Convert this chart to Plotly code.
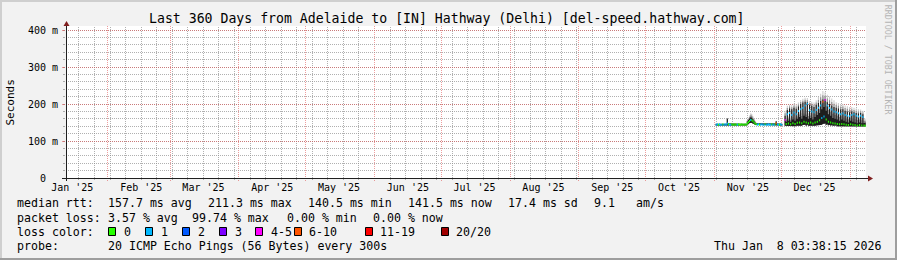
import plotly.graph_objects as go
import pandas as pd

# ---------------- data (median RTT in ms, smoke bounds in ms, loss class) ----------------
# samples every 12h starting 2025-11-01 12:00 ; None = no data
med = [
    144, 145, 144, 145, 144, 144, 145, 144, 145, 144,
    147, 145, 144, 144, 145, 144, 144, 145, 144, 144,
    145, 144, 144, 145, 144, 144, 145, 144,
    148, 151, 154, 157, 156, 154, 150, 147, 145,
    144, 145, 144, 144, 145, 144, 144, 145, 144, 144,
    145, 144, 144, 145, 144, 144, 145,
    148,
    145, 144, 144, 145, 144,
    None, None,
    157,
    146, 172, 147, 176, 145, 170, 148, 177, 146, 172, 149, 181, 150, 186, 148, 189,
    152, 196, 150, 201, 148, 183, 150, 180, 147, 178, 150, 184, 152, 190, 156, 196,
    162, 206, 166, 211, 158, 196, 152, 189, 150, 185, 148, 180, 147, 178, 146, 175,
    145, 172, 146, 174, 145, 170, 144, 168, 143, 167, 145, 170, 144, 172, 143, 168,
    142, 166, 143, 168, 142, 165, 142, 141.5,
]
lo = [
    142, 143, 142, 143, 142, 142, 143, 142, 143, 142,
    143, 143, 142, 142, 143, 142, 142, 143, 142, 142,
    143, 142, 142, 143, 142, 142, 143, 142,
    144, 146, 148, 150, 149, 147, 145, 144, 143,
    142, 143, 142, 142, 143, 142, 142, 143, 142, 142,
    143, 142, 142, 143, 142, 142, 143,
    144,
    143, 142, 142, 143, 142,
    None, None,
    141,
    140, 142, 140, 142, 140, 141, 141, 142, 140, 141, 141, 142, 141, 143, 141, 143,
    142, 144, 141, 144, 141, 142, 141, 142, 140, 142, 141, 142, 142, 143, 143, 144,
    144, 146, 145, 147, 143, 145, 142, 144, 141, 143, 141, 142, 140, 142, 140, 141,
    140, 141, 140, 141, 140, 141, 140, 141, 139, 140, 140, 141, 140, 141, 139, 140,
    139, 140, 139, 140, 139, 140, 139, 139,
]
hi = [
    146, 147, 146, 147, 146, 146, 147, 146, 147, 146,
    160, 147, 146, 146, 147, 146, 146, 147, 146, 146,
    147, 146, 146, 147, 146, 146, 147, 146,
    153, 157, 161, 164, 163, 159, 155, 150, 147,
    146, 147, 146, 146, 147, 146, 146, 147, 146, 146,
    147, 146, 146, 147, 146, 146, 147,
    153,
    147, 146, 146, 147, 146,
    None, None,
    168,
    152, 184, 155, 188, 152, 186, 158, 190, 155, 187, 160, 193, 165, 200, 160, 204,
    168, 206, 165, 205, 160, 197, 162, 195, 158, 192, 165, 198, 170, 203, 176, 208,
    186, 212, 192, 213, 182, 205, 172, 200, 168, 196, 162, 192, 160, 190, 158, 188,
    155, 185, 158, 186, 155, 182, 152, 180, 150, 178, 155, 180, 152, 178, 150, 176,
    148, 174, 150, 176, 148, 172, 148, 150,
]
smax = [
    147, 148, 147, 148, 147, 147, 148, 147, 148, 147,
    162, 148, 147, 147, 148, 147, 147, 148, 147, 147,
    148, 147, 147, 148, 147, 147, 148, 147,
    157, 163, 169, 175, 173, 167, 161, 155, 150,
    147, 148, 147, 147, 148, 147, 147, 148, 147, 147,
    148, 147, 147, 148, 147, 147, 148,
    155,
    148, 147, 147, 148, 147,
    None, None,
    182,
    162, 195, 166, 198, 163, 197, 170, 201, 166, 199, 173, 204, 178, 211, 175, 214,
    181, 217, 178, 216, 175, 208, 176, 206, 172, 204, 180, 210, 186, 219, 196, 228,
    212, 235, 218, 232, 206, 225, 196, 220, 190, 215, 185, 210, 181, 205, 178, 203,
    175, 200, 176, 200, 172, 196, 170, 194, 168, 192, 172, 192, 170, 190, 168, 188,
    165, 186, 166, 185, 164, 182, 162, 160,
]
loss = [
    1, 1, 0, 1, 1, 1, 0, 1, 1, 1,
    1, 0, 1, 1, 0, 0, 0, 0, 0, 1,
    0, 0, 0, 0, 0, 0, 0, 0,
    0, 0, 0, 1, 0, 0, 0, 0, 0,
    1, 1, 0, 1, 1, 1, 1, 0, 1, 1,
    1, 1, 1, 0, 1, 1, 0,
    5,
    1, 1, 0, 1, 1,
    None, None,
    4,
    0, 1, 0, 1, 0, 1, 0, 1, 0, 1, 0, 1, 0, 1, 0, 1,
    0, 1, 0, 1, 0, 1, 0, 1, 0, 1, 0, 1, 0, 1, 0, 1,
    1, 5, 1, 4, 0, 1, 0, 1, 0, 1, 0, 1, 0, 1, 0, 1,
    0, 1, 0, 1, 0, 1, 0, 1, 0, 1, 0, 1, 0, 1, 0, 1,
    0, 1, 0, 1, 0, 1, 0, 0,
]
first_sample = "2025-11-01 12:00"
step = "12h"

loss_labels = ["0", "1", "2", "3", "4-5", "6-10", "11-19", "20/20"]
loss_colors = ["#26ff00", "#00b8ff", "#0059ff", "#7e00ff", "#ff00ff", "#ff5500", "#ff0000", "#a10000"]

title = "Last 360 Days from Adelaide to [IN] Hathway (Delhi) [del-speed.hathway.com]"
end_time = pd.Timestamp("2026-01-08 03:38:15")
start_time = end_time - pd.Timedelta(days=360)
month_labels = ["Jan '25", "Feb '25", "Mar '25", "Apr '25", "May '25", "Jun '25",
                "Jul '25", "Aug '25", "Sep '25", "Oct '25", "Nov '25", "Dec '25"]
y_ticks = [0, 0.1, 0.2, 0.3, 0.4]
y_ticktext = ["0\u00a0\u00a0", "100 m", "200 m", "300 m", "400 m"]

stats1 = [("median rtt:", 16), ("157.7 ms avg", 107.3), ("211.3 ms max", 207.3),
          ("140.5 ms min", 307), ("141.5 ms now", 406.7), ("17.4 ms sd", 507.3),
          ("9.1", 593.3), ("am/s", 635)]
stats2 = [("packet loss:", 16), ("3.57 % avg", 107.3), ("99.74 % max", 191),
          ("0.00 % min", 286), ("0.00 % now", 372.3)]
probe_text = "20 ICMP Echo Pings (56 Bytes) every 300s"
date_text = "Thu Jan\u00a0\u00a08 03:38:15 2026"

# ---------------- geometry ----------------
W, H = 897, 260
PL, PR, PT, PB = 66, 866, 26, 178       # plot area in px
PX_PER_UNIT = 370.0                     # px per second on y
y_top = (PB - PT) / PX_PER_UNIT
SPAN = end_time - start_time


def fx(px):
    return (px - PL) / (PR - PL)


def fy(py):
    return (PB - py) / (PB - PT)


def snap_time(t):
    # paper x of a date, snapped to a pixel centre for crisp dotted lines
    px = PL + (t - start_time) / SPAN * (PR - PL)
    return fx(int(px) + 0.5)


MONO = "DejaVu Sans Mono"

# ---------------- build traces ----------------
n = len(med)
edges = pd.date_range(first_sample, periods=n + 1, freq=step)

runs = []
i = 0
while i < n:
    if med[i] is None:
        i += 1
        continue
    j = i
    while j + 1 < n and med[j + 1] is not None:
        j += 1
    runs.append((i, j))
    i = j + 1


def band(lower, upper, color):
    traces = []
    for a, b in runs:
        xs, ys = [], []
        for k in range(a, b + 1):
            xs += [edges[k], edges[k + 1]]
            ys += [upper[k] / 1000, upper[k] / 1000]
        for k in range(b, a - 1, -1):
            xs += [edges[k + 1], edges[k]]
            ys += [lower[k] / 1000, lower[k] / 1000]
        traces.append(go.Scatter(x=xs, y=ys, mode="lines", fill="toself",
                                 fillcolor=color, line=dict(width=0),
                                 hoverinfo="skip", showlegend=False))
    return traces


mid = [None if h is None else (h + s) / 2 for h, s in zip(hi, smax)]

fig = go.Figure()
for tr in band(lo, smax, "#cdcdcd"):
    fig.add_trace(tr)
for tr in band(lo, mid, "#8c8c8c"):
    fig.add_trace(tr)
for tr in band(lo, hi, "#1e1e1e"):
    fig.add_trace(tr)

for c, col in enumerate(loss_colors):
    xs, ys = [], []
    for a, b in runs:
        for k in range(a, b + 1):
            if loss[k] != c:
                continue
            xs += [edges[k], edges[k + 1], None]
            ys += [med[k] / 1000, med[k] / 1000, None]
    if xs:
        fig.add_trace(go.Scatter(x=xs, y=ys, mode="lines", line=dict(color=col, width=2),
                                 connectgaps=False, hoverinfo="skip", showlegend=False))

# ---------------- axes ----------------
month_starts = pd.date_range("2025-02-01", "2026-01-01", freq="MS")
label_pos = [m + pd.Timedelta(days=15) for m in pd.date_range("2025-01-01", "2025-12-01", freq="MS")]
week_lines = pd.date_range("2025-01-19", "2026-01-08", freq="7D")

GRID = "rgba(143,143,143,0.7)"
MGRID = "rgba(222,79,79,0.55)"

fig.update_layout(
    width=W, height=H,
    margin=dict(l=PL, r=W - PR, t=PT, b=H - PB, pad=0),
    paper_bgcolor="#f2f2f2", plot_bgcolor="#ffffff",
    showlegend=False,
    xaxis=dict(type="date", range=[start_time, end_time], tickmode="array",
               tickvals=label_pos, ticktext=month_labels, showgrid=False,
               ticks="", showline=False, zeroline=False,
               tickfont=dict(family=MONO, size=10, color="#000000"),
               ticklabelstandoff=2),
    yaxis=dict(range=[0, y_top], tickmode="array", tickvals=y_ticks, ticktext=y_ticktext,
               showgrid=True, gridcolor=MGRID, griddash="1px,1px", gridwidth=1,
               ticks="outside", ticklen=3, tickcolor=MGRID, zeroline=False, showline=False,
               tickfont=dict(family=MONO, size=10, color="#000000"), ticklabelstandoff=2,
               minor=dict(dtick=0.02, showgrid=True, gridcolor=GRID, griddash="1px,1px",
                          gridwidth=1, ticks="outside", ticklen=2, tickcolor=GRID)),
)

# ---------------- decoration shapes ----------------
shapes = []

# vertical grid derived from the calendar
month_set = set(month_starts)
for wk in week_lines:
    if wk in month_set:
        continue
    xp = snap_time(wk)
    shapes.append(dict(type="line", xref="paper", yref="paper", x0=xp, x1=xp,
                       y0=fy(180), y1=1, layer="below",
                       line=dict(color=GRID, width=1, dash="1px,1px")))
for ms in month_starts:
    xp = snap_time(ms)
    shapes.append(dict(type="line", xref="paper", yref="paper", x0=xp, x1=xp,
                       y0=fy(181), y1=1, layer="below",
                       line=dict(color=MGRID, width=1, dash="1px,1px")))


def rect(x0, y0, x1, y1, fill, line=None, layer="above"):
    shapes.append(dict(type="rect", xref="paper", yref="paper",
                       x0=fx(x0), x1=fx(x1), y0=fy(y0), y1=fy(y1),
                       fillcolor=fill, line=dict(width=1 if line else 0, color=line or fill),
                       layer=layer))


# image frame
rect(0, 0, W, 2, "#cfcfcf")
rect(0, 0, 2, H, "#cfcfcf")
rect(0, H - 2, W, H, "#9e9e9e")
rect(W - 2, 0, W, H, "#9e9e9e")

AXIS = "#1f1f1f"
ARROW = "#801f1f"
shapes.append(dict(type="line", xref="paper", yref="paper", x0=fx(66.5), x1=fx(66.5),
                   y0=fy(181), y1=fy(26), line=dict(color=AXIS, width=1)))
shapes.append(dict(type="line", xref="paper", yref="paper", x0=fx(62), x1=fx(869),
                   y0=fy(178.5), y1=fy(178.5), line=dict(color=AXIS, width=1)))
shapes.append(dict(type="path", xref="paper", yref="paper",
                   path=f"M {fx(63.5)} {fy(26)} L {fx(69.5)} {fy(26)} L {fx(66.5)} {fy(21)} Z",
                   fillcolor=ARROW, line=dict(width=0)))
shapes.append(dict(type="path", xref="paper", yref="paper",
                   path=f"M {fx(868)} {fy(175.5)} L {fx(868)} {fy(181.5)} L {fx(873)} {fy(178.5)} Z",
                   fillcolor=ARROW, line=dict(width=0)))

# legend swatches
sw_x = [108.5, 145.5, 182.5, 219.5, 255.5, 294.5, 365.5, 441.5]
lab_x = [122.7, 160, 196.7, 234, 270, 308.3, 379.3, 455]
for sx, col in zip(sw_x, loss_colors):
    rect(sx, 227.5, sx + 7, 235.5, col, line="#000000")

fig.update_layout(shapes=shapes)

# ---------------- text ----------------
anns = []


def ann(px, py, text, size=11.6, anchor="left", color="black", angle=0, family=MONO):
    anns.append(dict(x=fx(px), y=fy(py), xref="paper", yref="paper", text=text,
                     showarrow=False, xanchor=anchor, yanchor="middle", borderpad=0,
                     textangle=angle, font=dict(family=family, size=size, color=color)))


ann(446.7, 18, title, size=13.2, anchor="center")
ann(10.8, 102.7, "Seconds", size=11, anchor="center", angle=-90)
ann(888.3, 60, "RRDTOOL / TOBI OETIKER", size=8.3, anchor="center", angle=90, color="#b4b4b4")
for txt, x in stats1:
    ann(x, 203.5, txt)
for txt, x in stats2:
    ann(x, 217.5, txt)
ann(16, 231.5, "loss color:")
for lx, lab in zip(lab_x, loss_labels):
    ann(lx, 231.5, lab)
ann(16, 245.5, "probe:")
ann(107.3, 245.5, probe_text)
ann(713.3, 245.5, date_text)

fig.update_layout(annotations=anns)

fig.write_html("out.html")
